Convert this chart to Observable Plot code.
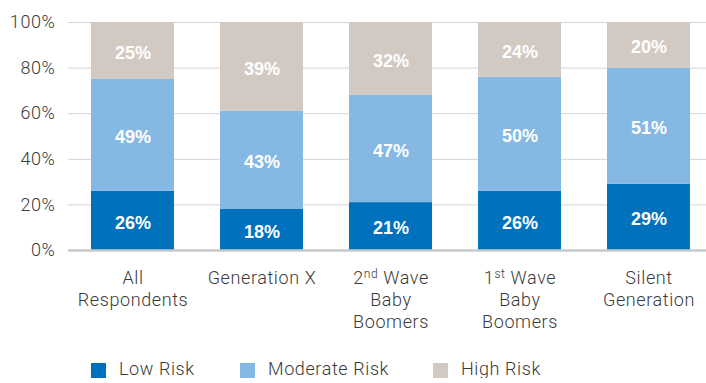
<!DOCTYPE html>
<html>
<head>
<meta charset="utf-8">
<script src="https://cdn.jsdelivr.net/npm/d3@7"></script>
<script src="https://cdn.jsdelivr.net/npm/@observablehq/plot@0.6"></script>
<style>
  html, body { margin: 0; background: #fff; font-family: Roboto, "Liberation Sans", sans-serif; overflow: hidden; }
  #chart svg { display: block; }
  #chart svg text.light { letter-spacing: 0.6px; }
  .legend { display: flex; margin-left: 91px; margin-top: 18px; height: 15px; align-items: center;
            font-size: 18px; font-weight: 300; color: #3a3a3a; letter-spacing: 0.6px; line-height: 15px; }
  .legend .item { display: flex; align-items: center; }
  .legend .sw { width: 15px; height: 15px; margin-right: 13px; }
  .legend .lab { position: relative; top: -2px; }
</style>
</head>
<body>
<div id="chart"></div>
<div class="legend" id="legend"></div>
<script>
const groups = ["All\nRespondents", "Generation X", "2nd Wave\nBaby\nBoomers", "1st Wave\nBaby\nBoomers", "Silent\nGeneration"];
const risks = ["Low Risk", "Moderate Risk", "High Risk"];
const colors = ["#0071bc", "#85b8e3", "#d3c9c3"];
const lowRisk = [26, 18, 21, 26, 29];
const moderateRisk = [49, 43, 47, 50, 51];
const highRisk = [25, 39, 32, 24, 20];
const yTicks = [0, 20, 40, 60, 80, 100];

const series = [lowRisk, moderateRisk, highRisk];
const rows = [];
groups.forEach((g, i) => risks.forEach((r, j) => rows.push({group: g, risk: r, value: series[j][i]})));

const chart = Plot.plot({
  width: 706,
  height: 345,
  marginLeft: 68,
  marginRight: 0,
  marginTop: 22,
  marginBottom: 95,
  style: {fontFamily: "Roboto, 'Liberation Sans', sans-serif", fontSize: "18px", color: "#3a3a3a"},
  x: {domain: groups, paddingInner: 0.357, paddingOuter: 0.151, align: 0.59, label: null},
  y: {domain: [0, 100], label: null},
  color: {domain: risks, range: colors},
  marks: [
    Plot.ruleY(yTicks, {stroke: "#d4d4d4", strokeWidth: 1}),
    Plot.barY(rows, {x: "group", y: "value", fill: "risk", order: risks}),
    Plot.text(rows, Plot.stackY({x: "group", y: "value", z: "risk", order: risks,
      text: d => d.value + "%", fill: "white", fontWeight: "bold", fontSize: 18, dy: 2,
      fontFamily: "'Liberation Sans', Arial, sans-serif"})),
    Plot.ruleY([0], {stroke: "#c8c8c8", strokeWidth: 2.5}),
    Plot.axisY(yTicks, {tickSize: 0, tickPadding: 13, tickFormat: d => d + "%", fontWeight: 300, fontSize: 18, fill: "#3a3a3a", className: "yax"}),
    Plot.axisX({tickSize: 0, tickPadding: 18, lineHeight: 1.22, fontWeight: 300, fontSize: 18, fill: "#3a3a3a", label: null, className: "xax"})
  ]
});

// Axis labels get a little extra tracking
chart.querySelectorAll(".yax text, .xax text").forEach(t => t.classList.add("light"));

// Ordinal suffixes on the wave labels are set as superscripts
chart.querySelectorAll("text, tspan").forEach(el => {
  if (el.children.length) return;
  const m = /^(\d)(st|nd) (Wave)$/.exec(el.textContent);
  if (!m) return;
  const ns = "http://www.w3.org/2000/svg";
  el.textContent = m[1];
  const sup = document.createElementNS(ns, "tspan");
  sup.setAttribute("dy", "-6");
  sup.setAttribute("font-size", "12");
  sup.textContent = m[2];
  const rest = document.createElementNS(ns, "tspan");
  rest.setAttribute("dy", "6");
  rest.textContent = " " + m[3];
  el.appendChild(sup);
  el.appendChild(rest);
});

document.getElementById("chart").appendChild(chart);

const legend = document.getElementById("legend");
const widths = [149, 193, 150];
risks.forEach((r, i) => {
  const item = document.createElement("div");
  item.className = "item";
  item.style.width = widths[i] + "px";
  const sw = document.createElement("span");
  sw.className = "sw";
  sw.style.background = colors[i];
  const label = document.createElement("span");
  label.className = "lab";
  label.textContent = r;
  item.appendChild(sw);
  item.appendChild(label);
  legend.appendChild(item);
});
</script>
</body>
</html>
